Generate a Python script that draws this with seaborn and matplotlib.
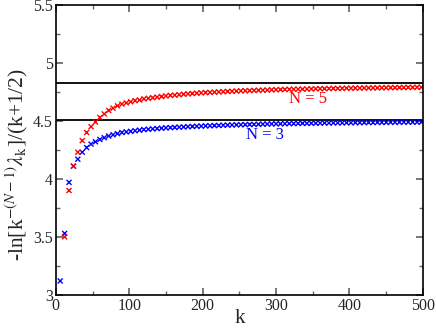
import numpy as np
import pandas as pd
import seaborn as sns
import matplotlib
matplotlib.use("Agg")
import matplotlib.pyplot as plt
from matplotlib.ticker import MultipleLocator

# k values (every 6th)
k_vals = [6, 12, 18, 24, 30, 36, 42, 48, 54, 60, 66, 72, 78, 84, 90, 96,
          102, 108, 114, 120, 126, 132, 138, 144, 150, 156, 162, 168, 174,
          180, 186, 192, 198, 204, 210, 216, 222, 228, 234, 240, 246, 252,
          258, 264, 270, 276, 282, 288, 294, 300, 306, 312, 318, 324, 330,
          336, 342, 348, 354, 360, 366, 372, 378, 384, 390, 396, 402, 408,
          414, 420, 426, 432, 438, 444, 450, 456, 462, 468, 474, 480, 486,
          492, 498]

# N = 3 (blue)
y_n3 = [3.12, 3.53, 3.97, 4.11, 4.17, 4.23, 4.27, 4.30, 4.32, 4.34, 4.355,
        4.37, 4.38, 4.39, 4.40, 4.405, 4.41, 4.415, 4.42, 4.425, 4.428, 4.431,
        4.434, 4.437, 4.44, 4.442, 4.444, 4.446, 4.448, 4.45, 4.452, 4.454,
        4.455, 4.457, 4.458, 4.460, 4.461, 4.463, 4.464, 4.465, 4.466, 4.467,
        4.468, 4.469, 4.470, 4.471, 4.472, 4.473, 4.474, 4.475, 4.475, 4.476,
        4.477, 4.477, 4.478, 4.479, 4.479, 4.480, 4.480, 4.481, 4.482, 4.482,
        4.483, 4.483, 4.483, 4.484, 4.484, 4.485, 4.485, 4.486, 4.486, 4.486,
        4.487, 4.487, 4.487, 4.488, 4.488, 4.488, 4.489, 4.489, 4.489, 4.489,
        4.490]

# N = 5 (red), first point below the axis range
y_n5 = [np.nan, 3.50, 3.90, 4.11, 4.23, 4.33, 4.40, 4.45, 4.49, 4.53, 4.56,
        4.59, 4.61, 4.63, 4.645, 4.655, 4.665, 4.675, 4.68, 4.69, 4.695, 4.70,
        4.705, 4.71, 4.715, 4.72, 4.722, 4.726, 4.73, 4.733, 4.736, 4.739,
        4.742, 4.744, 4.746, 4.748, 4.750, 4.752, 4.754, 4.755, 4.757, 4.759,
        4.760, 4.761, 4.763, 4.764, 4.765, 4.766, 4.768, 4.769, 4.770, 4.771,
        4.772, 4.773, 4.774, 4.774, 4.775, 4.776, 4.777, 4.778, 4.778, 4.779,
        4.780, 4.780, 4.781, 4.782, 4.782, 4.783, 4.783, 4.784, 4.784, 4.785,
        4.785, 4.786, 4.786, 4.787, 4.787, 4.788, 4.788, 4.789, 4.789, 4.790,
        4.790]

# asymptotes
limits = [4.828, 4.51]

df = pd.concat([
    pd.DataFrame({"k": k_vals, "y": y_n3, "N": 3}),
    pd.DataFrame({"k": k_vals, "y": y_n5, "N": 5}),
]).dropna()

sns.set_theme(style="ticks")
plt.rcParams["font.family"] = ["Liberation Serif", "DejaVu Serif"]
plt.rcParams["mathtext.fontset"] = "stix"

fig = plt.figure(figsize=(4.36, 3.28), dpi=100)
ax = fig.add_axes([0.128, 0.101, 0.842, 0.884])

for lim in limits:
    ax.axhline(lim, color="black", lw=1.3, zorder=1)

sns.scatterplot(data=df, x="k", y="y", hue="N",
                palette={3: "#0000ff", 5: "#ff0000"},
                marker="x", s=13, linewidth=1.0, legend=False, ax=ax, zorder=2)

ax.set_xlim(0, 500)
ax.set_ylim(3, 5.5)
ax.xaxis.set_major_locator(MultipleLocator(100))
ax.xaxis.set_minor_locator(MultipleLocator(50))
ax.yaxis.set_major_locator(MultipleLocator(0.5))
ax.yaxis.set_minor_locator(MultipleLocator(0.25))
ax.yaxis.set_major_formatter(plt.FuncFormatter(lambda v, p: f"{v:g}"))
ax.tick_params(which="both", direction="in", top=True, right=True,
               color="#666666", labelsize=11.5, pad=2)
ax.tick_params(which="major", length=5)
ax.tick_params(which="minor", length=3)
for sp in ax.spines.values():
    sp.set_color("black")
    sp.set_linewidth(1.2)

ax.set_xlabel("k", fontsize=15, labelpad=-3)
ax.set_ylabel(r"-ln[k$^{-(N-1)}$$\lambda_{\rm k}$]/(k+1/2)", fontsize=15.5)
ax.yaxis.set_label_coords(-0.07, 0.45)

ax.text(343, 4.69, "N = 5", color="#ff0000", fontsize=12, ha="center", va="center")
ax.text(285, 4.38, "N = 3", color="#0000ff", fontsize=12, ha="center", va="center")

fig.savefig("out.png", dpi=100)
